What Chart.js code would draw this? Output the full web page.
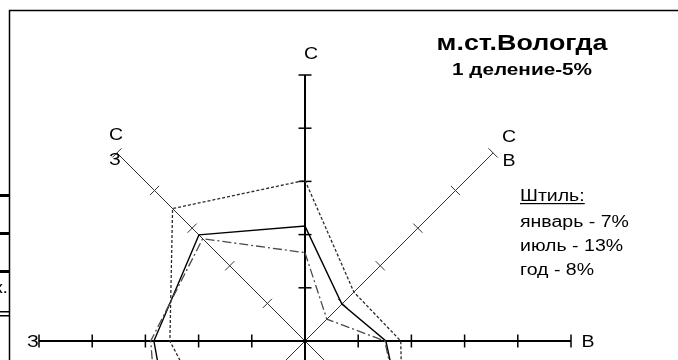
<!DOCTYPE html>
<html>
<head>
<meta charset="utf-8">
<script src="https://cdn.jsdelivr.net/npm/chart.js@4"></script>
<style>
  html, body { margin: 0; padding: 0; background: #fff; overflow: hidden; }
  #wrap { position: relative; width: 678px; height: 360px; overflow: hidden; background: #fff; }
  #rose { position: absolute; left: 0; top: 0; }
</style>
</head>
<body>
<div id="wrap"><canvas id="rose" width="678" height="720"></canvas></div>
<script>
const directions = ['С', 'СВ', 'В', 'ЮВ', 'Ю', 'ЮЗ', 'З', 'СЗ'];
const january = [8.3, 2.9, 7.5, 13.5, 16, 19, 14.5, 13.6];
const july = [15.1, 6.5, 9, 13, 12, 11.8, 12.7, 17.6];
const year = [10.8, 4.9, 7.6, 13.7, 15, 17, 14.2, 14.1];
const tickValues = [5, 10, 15, 20, 25];
const calmLabels = ['январь', 'июль', 'год'];
const calmValues = [7, 13, 8];

const FONT = '"Liberation Sans", Arial, sans-serif';
const SX = 1.22; // text in the original is a bit wide

function wideText(ctx, txt, x, y, font, align) {
  ctx.save();
  ctx.font = font;
  ctx.textBaseline = 'alphabetic';
  ctx.textAlign = 'left';
  const w = ctx.measureText(txt).width * SX;
  let x0 = x;
  if (align === 'center') x0 = x - w / 2;
  ctx.translate(x0, y);
  ctx.scale(SX, 1);
  ctx.fillText(txt, 0, 0);
  ctx.restore();
  return w;
}

// tick crosses on every axis
const axisTicks = {
  id: 'axisTicks',
  beforeDatasetsDraw(chart) {
    const ctx = chart.ctx;
    const r = chart.scales.r;
    ctx.save();
    directions.forEach((d, i) => {
      const a = r.getIndexAngle(i) - Math.PI / 2;
      const px = -Math.sin(a), py = Math.cos(a);
      ctx.strokeStyle = i % 2 === 0 ? '#000' : '#333';
      ctx.lineWidth = i % 2 === 0 ? 1.5 : 1;
      tickValues.forEach(v => {
        const p = r.getPointPositionForValue(i, v);
        ctx.beginPath();
        ctx.moveTo(p.x - px * 6.5, p.y - py * 6.5);
        ctx.lineTo(p.x + px * 6.5, p.y + py * 6.5);
        ctx.stroke();
      });
    });
    ctx.restore();
  }
};

const texts = {
  id: 'texts',
  afterDraw(chart) {
    const ctx = chart.ctx;
    ctx.save();
    ctx.fillStyle = '#000';

    // frame
    ctx.strokeStyle = '#000';
    ctx.lineWidth = 1.5;
    ctx.beginPath();
    ctx.moveTo(678, 10.5);
    ctx.lineTo(9.5, 10.5);
    ctx.lineTo(9.5, 360);
    ctx.stroke();

    // bits of the neighbouring page on the left edge
    [194, 232, 270].forEach(y => ctx.fillRect(0, y, 9, 3));
    ctx.fillRect(0, 311, 9, 1.5);
    ctx.fillRect(0, 315, 9, 1.5);
    ctx.save();
    ctx.beginPath();
    ctx.rect(0, 270, 9, 40);
    ctx.clip();
    wideText(ctx, 'к.', -6, 293, '16px ' + FONT, 'left');
    ctx.restore();

    // title
    wideText(ctx, 'м.ст.Вологда', 522, 50, 'bold 22px ' + FONT, 'center');
    wideText(ctx, '1 деление-5%', 522, 75, 'bold 17px ' + FONT, 'center');

    // direction letters
    const f = '16px ' + FONT;
    wideText(ctx, 'С', 311, 59, f, 'center');
    wideText(ctx, 'С', 116, 140, f, 'center');
    wideText(ctx, 'З', 115, 165, f, 'center');
    wideText(ctx, 'С', 509, 142, f, 'center');
    wideText(ctx, 'В', 509, 166, f, 'center');
    wideText(ctx, 'З', 33, 347, f, 'center');
    wideText(ctx, 'В', 588, 347, f, 'center');

    // calm
    const w = wideText(ctx, 'Штиль:', 520, 201, f, 'left');
    ctx.fillRect(520, 203, w, 1.2);
    calmLabels.forEach((lab, i) => {
      wideText(ctx, lab + ' - ' + calmValues[i] + '%', 520, 227 + i * 24, f, 'left');
    });
    ctx.restore();
  }
};

const ctx = document.getElementById('rose').getContext('2d');

const roseChart = new Chart(ctx, {
  type: 'radar',
  data: {
    labels: directions,
    datasets: [
      {
        label: 'январь',
        data: january,
        borderColor: '#4a4a4a',
        borderWidth: 1.3,
        borderDash: [9, 3, 2, 3],
        fill: false,
        pointRadius: 0
      },
      {
        label: 'июль',
        data: july,
        borderColor: '#2a2a2a',
        borderWidth: 1.3,
        borderDash: [3, 2],
        fill: false,
        pointRadius: 0
      },
      {
        label: 'год',
        data: year,
        borderColor: '#000',
        borderWidth: 1.4,
        fill: false,
        pointRadius: 0
      }
    ]
  },
  options: {
    responsive: false,
    animation: false,
    layout: { padding: { left: 39, top: 75, right: 107, bottom: 113 } },
    scales: {
      r: {
        min: 0,
        max: 25,
        grid: { display: false },
        ticks: { display: false, stepSize: 5 },
        pointLabels: { display: false },
        angleLines: {
          display: true,
          color: c => c.index % 2 === 0 ? '#000' : '#333',
          lineWidth: c => c.index % 2 === 0 ? 2 : 1
        }
      }
    },
    plugins: {
      legend: { display: false },
      tooltip: { enabled: false }
    }
  },
  plugins: [axisTicks, texts]
});
</script>
</body>
</html>
